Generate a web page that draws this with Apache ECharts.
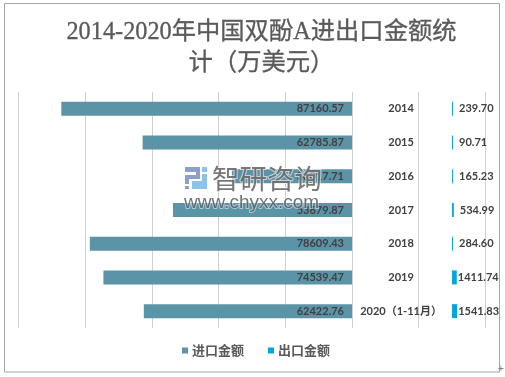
<!DOCTYPE html>
<html>
<head>
<meta charset="utf-8">
<style>
  html, body { margin: 0; padding: 0; background: #fff; }
  #chart { width: 505px; height: 377px; }
</style>
<script src="https://cdn.jsdelivr.net/npm/echarts@6/dist/echarts.min.js"></script>
</head>
<body>
<div id="chart"></div>
<script>
const years = ['2014', '2015', '2016', '2017', '2018', '2019', '2020（1-11月）'];
const importValues = [87160.57, 62785.87, 36017.71, 53679.87, 78609.43, 74539.47, 62422.76];
const exportValues = [239.70, 90.71, 165.23, 534.99, 284.60, 1411.74, 1541.83];
const labelGap = [30000, 30000, 30000, 30000, 30000, 30000, 30000];

const latin = 'Lato, "Noto Sans CJK SC", sans-serif';
const gridLine = { show: true, lineStyle: { color: '#cfcfcf', width: 1 } };
const labelColor = '#404040';

const chart = echarts.init(document.getElementById('chart'));

chart.setOption({
  animation: false,
  backgroundColor: '#fff',
  title: {
    text: '2014-2020年中国双酚A进出口金额统\n计（万美元）',
    left: 256.5,
    top: 12,
    textAlign: 'center',
    textStyle: {
      color: '#595959',
      fontFamily: '"Liberation Serif", "Noto Sans CJK SC", serif',
      fontWeight: 'normal',
      fontSize: 24.3,
      lineHeight: 31,
      textBorderColor: '#595959',
      textBorderWidth: 0.3,
    },
  },
  legend: {
    data: ['进口金额', '出口金额'],
    left: 182,
    top: 344,
    padding: 0,
    itemWidth: 6,
    itemHeight: 6,
    itemGap: 24,
    icon: 'rect',
    textStyle: { color: '#595959', fontSize: 13, fontFamily: '"Noto Sans CJK SC", sans-serif', fontWeight: 'bold', padding: [0, 0, 0, -1] },
  },
  grid: [
    { left: 18.5, top: 92, width: 333.5, height: 236 },
    { left: 352, top: 92, width: 133.4, height: 236 },
  ],
  xAxis: [
    { gridIndex: 0, type: 'value', inverse: true, min: 0, max: 100000, interval: 20000,
      axisLabel: { show: false }, axisLine: { show: false }, axisTick: { show: false }, splitLine: gridLine },
    { gridIndex: 1, type: 'value', min: 0, max: 40000, interval: 20000,
      axisLabel: { show: false }, axisLine: { show: false }, axisTick: { show: false }, splitLine: gridLine },
  ],
  yAxis: [
    { gridIndex: 0, type: 'category', inverse: true, data: years,
      axisLabel: { show: false }, axisLine: { show: false }, axisTick: { show: false } },
    { gridIndex: 1, type: 'category', inverse: true, data: years,
      axisLabel: { show: false }, axisLine: { show: false }, axisTick: { show: false } },
  ],
  series: [
    {
      name: '进口金额', type: 'bar', xAxisIndex: 0, yAxisIndex: 0, data: importValues, barWidth: 14,
      itemStyle: { color: '#5b93a7' },
      label: {
        show: true, position: 'insideRight', distance: 8, color: labelColor,
        fontFamily: latin, fontSize: 11, fontWeight: 'bold',
        formatter: p => p.value.toFixed(2),
      },
    },
    {
      name: 'gap', type: 'bar', stack: 'right', xAxisIndex: 1, yAxisIndex: 1, data: labelGap, barWidth: 14,
      itemStyle: { color: 'transparent' },
      label: {
        show: true, position: 'inside', color: labelColor, offset: [-1, 0],
        fontFamily: latin, fontSize: 11, fontWeight: 'bold',
        formatter: p => p.name,
      },
    },
    {
      name: '出口金额', type: 'bar', stack: 'right', xAxisIndex: 1, yAxisIndex: 1, barWidth: 14, barMinHeight: 1,
      data: exportValues.map(v => ({ value: v, label: { distance: v > 1000 ? 1 : 6 } })),
      itemStyle: { color: '#00a6dd' },
      label: {
        show: true, position: 'right', color: labelColor,
        fontFamily: latin, fontSize: 11, fontWeight: 'bold',
        formatter: p => p.value.toFixed(2),
      },
    },
  ],
  graphic: [
    { type: 'rect', silent: true, shape: { x: 4.5, y: 3.5, width: 495, height: 368.5 },
      style: { fill: 'none', stroke: '#a6a6a6', lineWidth: 1 } },
    { type: 'text', silent: true, z: 100, x: 498, y: 364,
      style: { text: '+', fill: '#7f7f7f', fontSize: 10, fontFamily: 'Liberation Sans' } },
    // watermark logo
    { type: 'rect', silent: true, z: 100, shape: { x: 185, y: 167, width: 15, height: 5 }, style: { fill: '#8f9fcb' } },
    { type: 'rect', silent: true, z: 100, shape: { x: 196, y: 167, width: 4, height: 12 }, style: { fill: '#8f9fcb' } },
    { type: 'rect', silent: true, z: 100, shape: { x: 185, y: 175, width: 15, height: 4 }, style: { fill: '#8f9fcb' } },
    { type: 'rect', silent: true, z: 100, shape: { x: 185, y: 175, width: 4, height: 9 }, style: { fill: '#8f9fcb' } },
    { type: 'rect', silent: true, z: 100, shape: { x: 185, y: 186, width: 4, height: 3 }, style: { fill: '#8f9fcb' } },
    { type: 'rect', silent: true, z: 100, shape: { x: 202, y: 167, width: 5, height: 5 }, style: { fill: '#8cc3e8' } },
    { type: 'rect', silent: true, z: 100, shape: { x: 202, y: 174, width: 5, height: 15 }, style: { fill: '#8cc3e8' } },
    { type: 'rect', silent: true, z: 100, shape: { x: 192, y: 181, width: 15, height: 8 }, style: { fill: '#8cc3e8' } },
    { type: 'text', silent: true, z: 100, x: 212, y: 165,
      style: { text: '智研咨询', fill: 'rgba(95,95,95,0.85)', fontSize: 27.5, fontFamily: 'Noto Sans CJK SC',
        stroke: 'rgba(255,255,255,0.6)', lineWidth: 2 } },
    { type: 'text', silent: true, z: 100, x: 184, y: 193,
      style: { text: 'www.chyxx.com', fill: 'rgba(70,80,90,0.8)', fontSize: 19, fontFamily: 'Liberation Sans',
        stroke: 'rgba(255,255,255,0.5)', lineWidth: 2 } },
  ],
});
</script>
</body>
</html>
